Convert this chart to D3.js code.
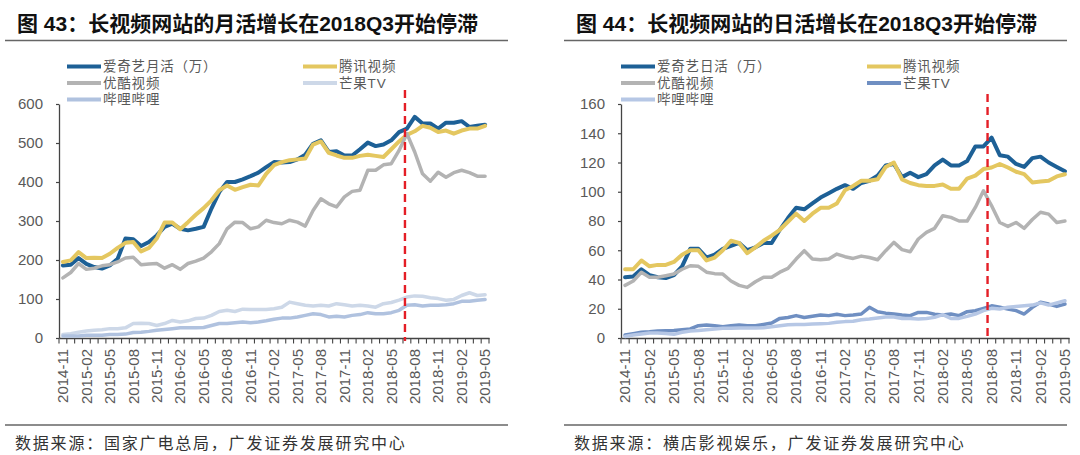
<!DOCTYPE html>
<html><head><meta charset="utf-8">
<script src="https://cdn.jsdelivr.net/npm/d3@7"></script>
<style>body{margin:0;background:#fff}</style>
</head><body><svg id="c" width="1080" height="455"></svg>
<script>
const months = ["2014-11","2014-12","2015-01","2015-02","2015-03","2015-04","2015-05","2015-06","2015-07","2015-08","2015-09","2015-10","2015-11","2015-12","2016-01","2016-02","2016-03","2016-04","2016-05","2016-06","2016-07","2016-08","2016-09","2016-10","2016-11","2016-12","2017-01","2017-02","2017-03","2017-04","2017-05","2017-06","2017-07","2017-08","2017-09","2017-10","2017-11","2017-12","2018-01","2018-02","2018-03","2018-04","2018-05","2018-06","2018-07","2018-08","2018-09","2018-10","2018-11","2018-12","2019-01","2019-02","2019-03","2019-04","2019-05"];
const tickLabels = ["2014-11","2015-02","2015-05","2015-08","2015-11","2016-02","2016-05","2016-08","2016-11","2017-02","2017-05","2017-08","2017-11","2018-02","2018-05","2018-08","2018-11","2019-02","2019-05"];

// 图43 月活（万）
const mauIqiyi = [186,188,205,190,182,178,186,203,255,253,236,246,263,285,293,280,276,280,285,332,374,400,400,407,415,424,438,451,450,451,458,470,498,507,477,479,468,468,484,501,492,496,507,528,537,567,550,550,537,552,552,556,541,544,547];
const mauTencent = [195,199,220,205,206,205,216,231,244,246,222,231,255,296,296,279,297,316,333,353,379,391,380,387,393,391,421,443,451,456,458,460,496,504,475,468,462,462,467,470,467,464,484,504,521,530,544,539,528,532,524,532,537,537,544];
const mauYouku = [154,168,191,176,179,185,188,195,205,207,188,190,191,179,188,176,191,197,205,221,242,280,297,296,280,285,302,296,293,302,297,287,327,357,344,336,362,376,379,430,430,444,447,481,524,477,421,402,425,412,424,430,424,415,415];
const mauMango = [9,11,15,18,20,21,24,24,26,37,38,37,32,37,45,41,44,50,51,58,68,71,68,74,73,73,73,75,79,92,88,84,82,84,82,88,85,82,84,82,79,88,91,97,105,108,107,103,101,97,99,109,116,109,111];
const mauBili = [5,5,5,7,7,7,9,9,10,14,15,17,20,22,24,26,26,26,27,32,37,37,39,41,39,41,44,48,51,51,54,58,62,60,54,56,54,58,60,65,62,62,65,71,84,85,82,84,84,85,88,94,94,97,99];

// 图44 日活（万）
const dauIqiyi = [41.5,42,47,43,41.5,41,43,49,61,61,55,57,61,63,65,60,62,65,65,74,82,89,88,92,96,99,102,104.5,102,106,107.5,111,118,119,110,113,110,112,118,122,118,118,121,131,131,137,125,124,119,117,123,124,120,117,114];
const dauTencent = [47,47,53,49,50,50,52,57,60,60,53,55,60,66.5,65,58,62,66.5,70,74,79.5,85,80,85,89,89,92,101,104,107.5,107.5,108.5,117,120,108.5,106,104.5,104,104,105,102,102,109,111,115.5,116.6,119,116.6,113.7,112,106.4,107,107.5,110.5,112];
const dauYouku = [36,39,45,41.5,41.5,42.6,43.7,47,49.4,49,45,44,43.7,39,36,34.6,38.5,41.5,41.5,45,47.6,54,59.7,54,53.5,54,57.4,55.6,54.4,56,55,53.5,59.7,65.4,60.4,59,67.7,72.2,75,83.6,82.5,80,80,89.3,100.7,90.4,79,76.3,79,75,81,86,84.7,79,80];
const dauMango = [2,3,4,4.3,4.8,5,5.2,5.7,6.2,8.4,8.9,8.4,7.7,8.4,8.9,8.4,8.4,9.3,10.3,13.4,14,15.3,14,14.8,15.7,15.3,16.2,15.3,15.7,16.4,21,18,17,16.4,15.7,15.3,17.5,17.5,16.2,15.7,16.4,15.3,18,18.7,20.3,22,21,19.8,18.7,16.4,21,24.4,23.2,21.6,23.2];
const dauBili = [1,2,2.7,3.4,3.4,3,2.5,3.9,4.8,5.2,5.7,6.2,6.6,6.6,6.8,6.8,6.8,7,7.7,8.4,9.1,9.3,9.3,9.6,9.8,10,10.7,11.2,11.4,12.5,13,13.7,14.3,14.3,13.4,13.4,13,13.4,14.1,16,13.4,13.4,14.8,16.4,18.7,20.3,19.8,21,21.6,22,22.5,24,22.5,24,25.5];

const leftYTicks = [0,100,200,300,400,500,600];
const rightYTicks = [0,20,40,60,80,100,120,140,160];
const markerMonth = "2018-07";

const charts = [
  {title:"图 43：长视频网站的月活增长在2018Q3开始停滞", source:"数据来源：国家广电总局，广发证券发展研究中心",
   x0:59, x1:489, titleX:17, lx0:5, lx1:508, srcX:15, legX:[67,303], yTicks:leftYTicks, markFrac:0.25, markTop:90,
   series:[
    {name:"爱奇艺月活（万）", data:mauIqiyi, color:"#1d6096", w:4, col:0,row:0},
    {name:"腾讯视频", data:mauTencent, color:"#e4c760", w:4, col:1,row:0},
    {name:"优酷视频", data:mauYouku, color:"#b3b3b3", w:3.5, col:0,row:1},
    {name:"芒果TV", data:mauMango, color:"#cdd8e8", w:3.5, col:1,row:1},
    {name:"哔哩哔哩", data:mauBili, color:"#b0c2df", w:3.5, col:0,row:2}]},
  {title:"图 44：长视频网站的日活增长在2018Q3开始停滞", source:"数据来源：横店影视娱乐，广发证券发展研究中心",
   x0:621, x1:1069, titleX:576, lx0:564, lx1:1067, srcX:574, legX:[621,867], yTicks:rightYTicks, markFrac:1.0, markTop:94,
   series:[
    {name:"爱奇艺日活（万）", data:dauIqiyi, color:"#1d6096", w:4, col:0,row:0},
    {name:"腾讯视频", data:dauTencent, color:"#e4c760", w:4, col:1,row:0},
    {name:"优酷视频", data:dauYouku, color:"#b3b3b3", w:3.5, col:0,row:1},
    {name:"芒果TV", data:dauMango, color:"#6f8fc2", w:3.5, col:1,row:1},
    {name:"哔哩哔哩", data:dauBili, color:"#b6c7e5", w:3.5, col:0,row:2}]}
];

const svg = d3.select("#c");
const yTop = 104, yBot = 338;
const latin = "'Liberation Sans', Arial, sans-serif";
const cjk = "'Liberation Sans', 'Noto Sans CJK SC', sans-serif";

charts.forEach(c => {
  const g = svg.append("g");
  // title
  g.append("text").attr("x", c.titleX).attr("y", 31).text(c.title)
    .attr("font-family", cjk).attr("font-weight", "bold").attr("font-size", 21).attr("fill", "#111");
  g.append("line").attr("x1", c.lx0).attr("x2", c.lx1).attr("y1", 40.5).attr("y2", 40.5)
    .attr("stroke", "#666").attr("stroke-width", 1.5);
  g.append("line").attr("x1", c.lx0).attr("x2", c.lx1).attr("y1", 425).attr("y2", 425)
    .attr("stroke", "#666").attr("stroke-width", 1.5);
  g.append("text").attr("x", c.srcX).attr("y", 449).text(c.source)
    .attr("font-family", "'Noto Sans CJK SC', sans-serif").attr("font-size", 16)
    .attr("letter-spacing", 1.8).attr("fill", "#333");

  const x = d3.scaleBand().domain(months).range([c.x0, c.x1]);
  const y = d3.scaleLinear().domain([0, c.yTicks[c.yTicks.length-1]]).range([yBot, yTop]);

  // y axis
  const ya = g.append("g").attr("transform", `translate(${c.x0},0)`)
    .call(d3.axisLeft(y).tickValues(c.yTicks).tickSize(3).tickPadding(13).tickSizeOuter(0));
  ya.select(".domain").attr("stroke", "#444").attr("stroke-width", 1.3);
  ya.selectAll(".tick line").attr("stroke", "#444").attr("stroke-width", 1.2);
  ya.selectAll("text").attr("font-family", latin).attr("font-size", 15).attr("fill", "#595959");

  // x axis labels
  const xa = g.append("g").attr("transform", `translate(0,${yBot})`)
    .call(d3.axisBottom(x).tickValues(tickLabels).tickSize(0).tickSizeOuter(0));
  xa.select(".domain").attr("stroke", "#444").attr("stroke-width", 1.3);
  xa.selectAll("text").attr("transform", "rotate(-90)").attr("x", -11).attr("y", 0)
    .attr("dy", "0.35em").attr("text-anchor", "end")
    .attr("font-family", latin).attr("font-size", 15).attr("fill", "#595959");
  // boundary ticks
  const bounds = months.map(m => x(m)).concat([c.x1]);
  g.append("g").selectAll("line").data(bounds).join("line")
    .attr("x1", d => d).attr("x2", d => d).attr("y1", yBot).attr("y2", yBot + 5.5)
    .attr("stroke", "#444").attr("stroke-width", 1.1);

  // lines
  const line = d3.line().x((d, i) => x(months[i]) + x.bandwidth()/2).y(d => y(d));
  c.series.forEach(s => {
    g.append("path").datum(s.data).attr("d", line).attr("fill", "none")
      .attr("stroke", s.color).attr("stroke-width", s.w)
      .attr("stroke-linejoin", "round").attr("stroke-linecap", "round");
  });

  // marker
  const mx = x(markerMonth) + x.bandwidth() * c.markFrac;
  g.append("line").attr("x1", mx).attr("x2", mx).attr("y1", c.markTop).attr("y2", yBot + 3)
    .attr("stroke", "#e41e26").attr("stroke-width", 2.4).attr("stroke-dasharray", "8,5");

  // legend
  const rows = [66.5, 83, 99.5];
  c.series.forEach(s => {
    const lx = c.legX[s.col], ly = rows[s.row];
    g.append("line").attr("x1", lx).attr("x2", lx + 34).attr("y1", ly).attr("y2", ly)
      .attr("stroke", s.color).attr("stroke-width", 4);
    g.append("text").attr("x", lx + 36).attr("y", ly).attr("dy", "0.36em").text(s.name)
      .attr("font-family", "'Liberation Sans', 'Noto Sans CJK SC', sans-serif").attr("font-size", 13.5)
      .attr("letter-spacing", 0.8).attr("fill", "#595959");
  });
});
</script>
</body></html>
